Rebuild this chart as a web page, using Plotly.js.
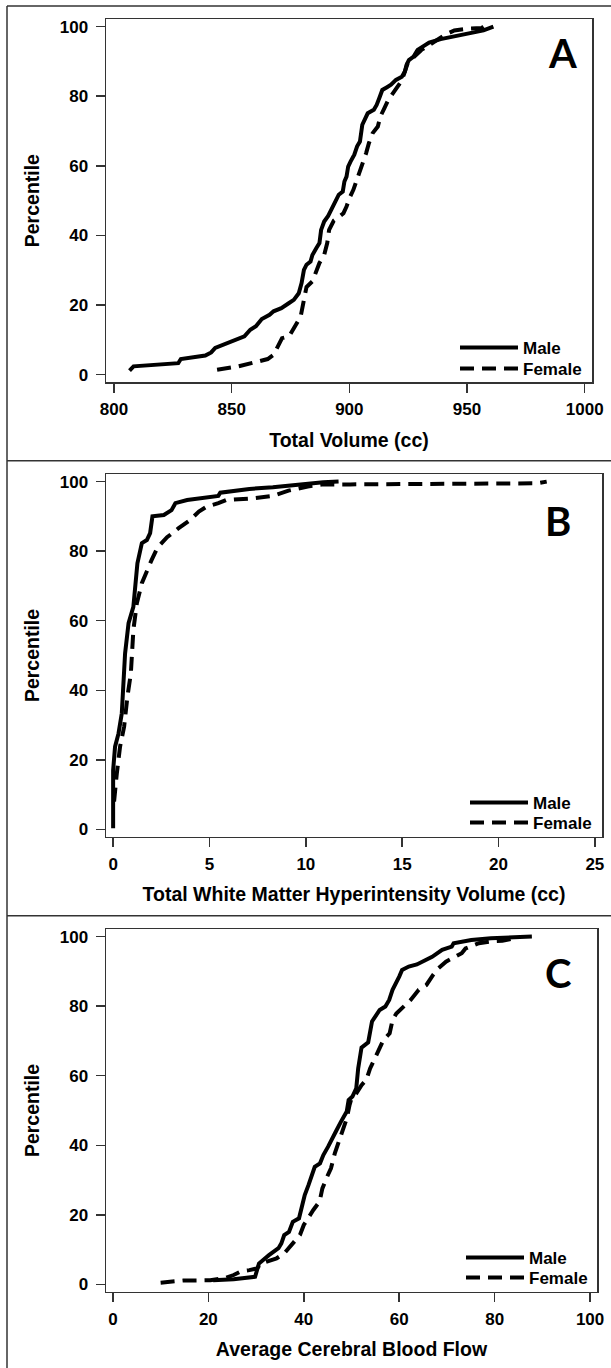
<!DOCTYPE html>
<html><head><meta charset="utf-8">
<script src="https://cdn.plot.ly/plotly-3.0.1.min.js"></script>
<style>html,body{margin:0;padding:0;background:#fff}#chart{width:611px;height:1368px}</style>
</head><body><div id="chart"></div>
<script>
const seriesNames = ['Male', 'Female'];
const panelLetters = ['A', 'B', 'C'];
const xTitles = ['Total Volume (cc)', 'Total White Matter Hyperintensity Volume (cc)', 'Average Cerebral Blood Flow'];
const yTitle = 'Percentile';
const yTicks = [0, 20, 40, 60, 80, 100];
const aTicks = [800, 850, 900, 950, 1000];
const bTicks = [0, 5, 10, 15, 20, 25];
const cTicks = [0, 20, 40, 60, 80, 100];

const aMaleX = [806.6, 808.3, 827.3, 828.4, 838.8, 841.3, 843, 849.6, 855.4, 857.9, 860.3, 862.8, 866.1, 867.8, 871.1, 874.4, 876.4, 878.5, 879.7, 880.7, 881.8, 883.5, 884.3, 886, 887.3, 888, 889.3, 891, 892.6, 894.5, 895.5, 897.2, 897.9, 898.8, 899.5, 900.5, 902.1, 903.3, 904.5, 905.5, 906.6, 907.8, 910.4, 911.6, 912.7, 914, 916, 917.7, 919.8, 922.3, 923.6, 924.3, 925.3, 927.3, 929, 931.4, 933.9, 938.8, 943.8, 950.4, 957, 961.2];
const aMaleY = [1.2, 2.4, 3.3, 4.5, 5.5, 6.4, 7.7, 9.6, 11, 12.9, 13.9, 16, 17.2, 18.2, 19.1, 20.6, 21.5, 23.4, 26.3, 30.1, 31.6, 32.5, 34.4, 36.4, 37.8, 41.6, 44, 45.6, 47.8, 49.8, 51.7, 52.6, 55.5, 56.9, 59.8, 61.2, 63.2, 65.6, 67, 71.8, 73.7, 75.1, 76.1, 77.5, 79.4, 81.8, 82.6, 83.3, 84.7, 85.6, 87.1, 89, 90.4, 91.4, 93.3, 94.3, 95.4, 96.4, 97.1, 97.8, 98.9, 100];
const aFemaleX = [843.8, 852.9, 859.5, 865.3, 867.8, 869.4, 871.4, 874.4, 876, 879.3, 880.7, 881.8, 884.3, 886, 887.3, 889.3, 890.6, 891.4, 893.4, 895.9, 897.5, 898.8, 900, 901.7, 903.3, 904.5, 905.8, 907.1, 908.3, 909.9, 912.1, 913.2, 914.9, 916.5, 919, 921.5, 923.1, 924.8, 927.3, 930.6, 933.9, 937.2, 940.5, 944.6, 950.4, 956.2, 957];
const aFemaleY = [1.4, 2.4, 3.5, 4.5, 5.7, 8.1, 10.5, 11, 12.9, 16.7, 21.5, 25.2, 26.8, 29.7, 32.1, 34.4, 37.8, 41.6, 44.3, 45.5, 46.4, 48.3, 50.7, 53.1, 56, 58.9, 60.8, 63.6, 66.5, 69.4, 71.3, 74.2, 76.6, 78.9, 81.3, 83.7, 86.1, 89.5, 91.2, 93.3, 94.7, 96.2, 97.6, 98.9, 99.4, 99.6, 100];

const bMaleX = [0, 0, 0.1, 0.28, 0.45, 0.62, 0.8, 1.05, 1.26, 1.49, 1.75, 1.92, 2.04, 2.63, 3.03, 3.23, 3.84, 4.65, 5.46, 5.56, 6.27, 7.07, 8.29, 9.9, 10.9, 11.7];
const bMaleY = [0.3, 17, 23.8, 27.6, 33.4, 50.6, 59.3, 64, 76.5, 82.3, 83.2, 85.2, 90, 90.4, 91.8, 93.8, 94.7, 95.2, 95.9, 96.8, 97.4, 97.9, 98.4, 99.3, 99.8, 100];
const bFemaleX = [0.05, 0.1, 0.19, 0.36, 0.57, 0.74, 0.92, 1.05, 1.23, 1.49, 1.75, 2.0, 2.3, 2.8, 3.4, 4.0, 4.45, 4.85, 5.46, 5.86, 7.28, 8.29, 9.1, 10.1, 10.9, 12.3, 22.0, 22.5];
const bFemaleY = [8, 11.3, 16, 23.8, 29.5, 38.1, 44.9, 57.3, 65, 70.8, 74.6, 77.5, 81, 84, 86.6, 89, 91.4, 92.8, 93.8, 94.7, 95.2, 95.9, 97.4, 98.6, 99.2, 99.2, 99.5, 100];

const cMaleX = [21, 25.3, 29.8, 30.6, 32.7, 34.7, 35.3, 35.9, 36.9, 37.7, 39, 39.6, 40.2, 41, 41.6, 42.3, 43.4, 44.1, 45.1, 45.7, 46.7, 47.8, 49, 49.4, 50.2, 51, 51.4, 52.1, 53.5, 54.3, 55.1, 55.9, 57.1, 57.9, 58.6, 59.2, 60, 60.6, 62, 63.7, 65.3, 66.9, 69, 71, 71.4, 75.1, 79.2, 87.8];
const cMaleY = [1.2, 1.5, 2.2, 6, 8.4, 10.4, 11.8, 14.2, 15.1, 18, 19, 22.8, 25.7, 28.6, 31.4, 33.8, 34.8, 37.2, 39.6, 41, 43.9, 46.8, 49.7, 53, 54, 56.4, 62.1, 68.1, 69.6, 75.6, 77.5, 78.9, 79.9, 81.8, 84.7, 86.1, 88.5, 90.4, 91.4, 92, 93, 94.2, 96.2, 97.1, 98.1, 99, 99.5, 100];
const cFemaleX = [10, 14.7, 20.4, 23.7, 25.3, 26.9, 28.6, 30.2, 31, 32.7, 34.3, 35.9, 37.1, 38.4, 39.2, 40, 40.8, 42, 43.3, 43.9, 44.9, 45.7, 46.5, 47.3, 48.2, 49, 49.6, 50, 51, 52.1, 53.1, 53.9, 54.9, 55.9, 56.7, 58, 58.6, 59.4, 60.8, 62.4, 64.1, 65.7, 67.1, 68.2, 69.8, 71.8, 73.1, 73.9, 76.7, 79.2, 81.6, 84.1];
const cFemaleY = [0.5, 1.1, 1.2, 1.9, 2.7, 3.8, 4.1, 4.6, 6, 6.7, 7.5, 8.9, 10.8, 13.2, 14.2, 17.1, 19, 21.4, 23.8, 27.6, 31, 33.4, 37.7, 41, 43.9, 47.7, 51.6, 53.5, 54.9, 57.3, 58.8, 62.1, 65, 67.9, 70.3, 72.2, 76, 77.9, 79.9, 81.8, 84.7, 86.1, 89, 90.9, 92.8, 94.2, 95.2, 96.6, 98.1, 98.6, 98.8, 99.5];

const W = 611, H = 1368;
const FONT = 'Liberation Sans, Arial, sans-serif';
const INK = '#000';
const FRAME = '#333';
const DASH = '14px,8px';

function px(x) { return x / W; }
function py(y) { return 1 - y / H; }

const panels = [
  {mx: aMaleX, my: aMaleY, fx: aFemaleX, fy: aFemaleY, ticks: aTicks, range: [796.6, 1003.1], left: 106, right: 592, top: 19.3, bottom: 382, letter: [562, 53], leg: [455, 330, 351]},
  {mx: bMaleX, my: bMaleY, fx: bFemaleX, fy: bFemaleY, ticks: bTicks, range: [-0.37, 25.37], left: 106, right: 602, top: 474.3, bottom: 836.7, letter: [558, 521], leg: [465, 785, 805]},
  {mx: cMaleX, my: cMaleY, fx: cFemaleX, fy: cFemaleY, ticks: cTicks, range: [-1.45, 101.45], left: 106, right: 597, top: 929.3, bottom: 1291.7, letter: [558, 973], leg: [461, 1240, 1260]}
];

const traces = [];
const layout = {
  width: W, height: H,
  margin: {l: 0, r: 0, t: 0, b: 0},
  paper_bgcolor: '#fff', plot_bgcolor: '#fff',
  showlegend: true,
  font: {family: FONT, color: INK},
  annotations: [],
  shapes: [
    {type: 'line', xref: 'paper', yref: 'paper', x0: px(7), x1: px(7), y0: py(6), y1: 0, line: {color: FRAME, width: 1.5}},
    {type: 'line', xref: 'paper', yref: 'paper', x0: px(7), x1: 1, y0: py(6), y1: py(6), line: {color: FRAME, width: 1.5}},
    {type: 'line', xref: 'paper', yref: 'paper', x0: px(7), x1: 1, y0: py(460.7), y1: py(460.7), line: {color: FRAME, width: 1.5}},
    {type: 'line', xref: 'paper', yref: 'paper', x0: px(7), x1: 1, y0: py(915.7), y1: py(915.7), line: {color: FRAME, width: 1.5}}
  ]
};

const axCommon = {
  showline: true, mirror: true, linecolor: FRAME, linewidth: 1.5,
  ticks: 'outside', ticklen: 9, tickwidth: 1.5, tickcolor: FRAME,
  showgrid: false, zeroline: false, fixedrange: true,
  tickfont: {family: FONT, size: 17, color: INK, weight: 700}
};
const titleFont = {family: FONT, size: 19.5, color: INK, weight: 700};

let legIdx = 0;
function legendFor(x, y) {
  legIdx += 1;
  const key = legIdx === 1 ? 'legend' : 'legend' + legIdx;
  layout[key] = {
    x: px(x), y: py(y), xanchor: 'left', yanchor: 'top',
    bgcolor: 'rgba(0,0,0,0)', borderwidth: 0, itemwidth: 58,
    font: {family: FONT, size: 17, color: INK, weight: 700}
  };
  return key;
}

panels.forEach((p, i) => {
  const n = i === 0 ? '' : String(i + 1);
  const xa = 'x' + n, ya = 'y' + n;
  traces.push({x: p.mx, y: p.my, xaxis: xa, yaxis: ya, type: 'scatter', mode: 'lines', name: seriesNames[0],
    line: {color: INK, width: 4}, legend: legendFor(p.leg[0], p.leg[1]), hoverinfo: 'skip'});
  traces.push({x: p.fx, y: p.fy, xaxis: xa, yaxis: ya, type: 'scatter', mode: 'lines', name: seriesNames[1],
    line: {color: INK, width: 4, dash: DASH}, legend: legendFor(p.leg[0], p.leg[2]), hoverinfo: 'skip'});
  layout['xaxis' + n] = Object.assign({}, axCommon, {
    domain: [px(p.left), px(p.right)], range: p.range, anchor: ya,
    tickmode: 'array', tickvals: p.ticks, ticktext: p.ticks.map(String),
    ticklabelstandoff: 2,
    title: {text: xTitles[i], font: titleFont, standoff: 15}
  });
  layout['yaxis' + n] = Object.assign({}, axCommon, {
    domain: [py(p.bottom), py(p.top)], range: [-2.1, 102.1], anchor: xa,
    tickmode: 'array', tickvals: yTicks, ticktext: yTicks.map(String),
    ticklabelstandoff: 4,
    title: {text: yTitle, font: titleFont, standoff: 15}
  });
  layout.annotations.push({
    xref: 'paper', yref: 'paper', x: px(p.letter[0]), y: py(p.letter[1]),
    xanchor: 'center', yanchor: 'middle', showarrow: false,
    text: panelLetters[i], font: {family: 'Lato, Open Sans, sans-serif', size: 40, color: INK, weight: 700}
  });
});

Plotly.newPlot('chart', traces, layout, {staticPlot: true, displayModeBar: false});
</script>
</body></html>
